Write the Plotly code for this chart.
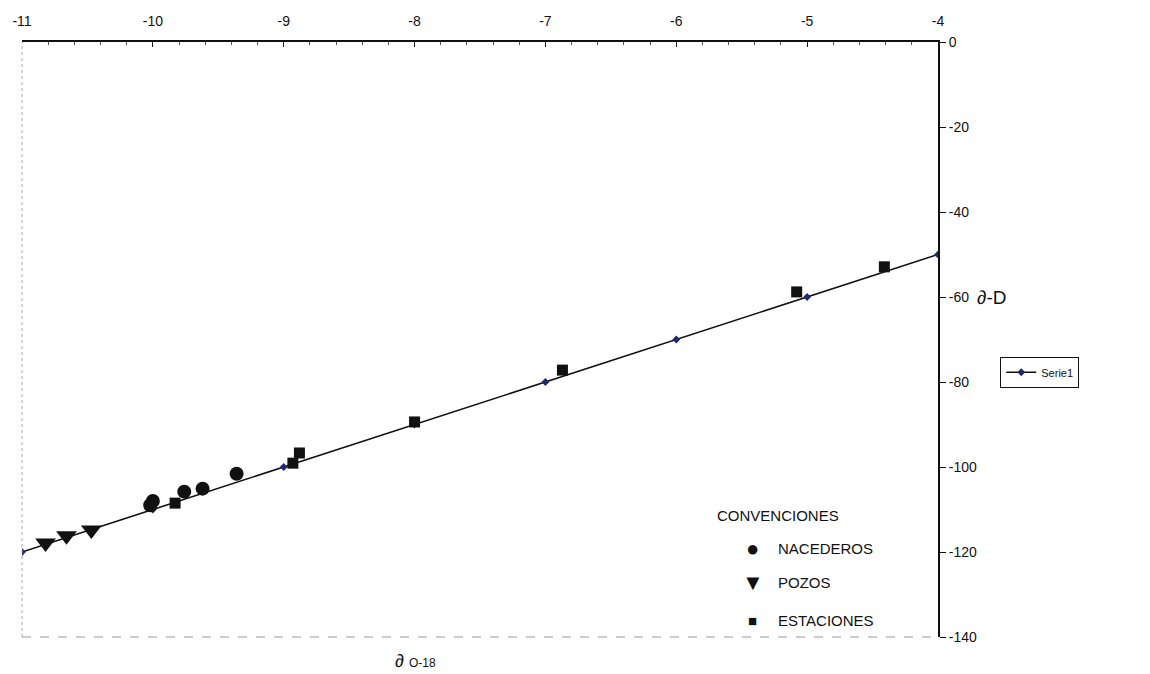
import plotly.graph_objects as go

# Serie1: meteoric water line
serie1_x = [-11, -10, -9, -8, -7, -6, -5, -4]
serie1_y = [-120, -110, -100, -90, -80, -70, -60, -50]

# NACEDEROS (springs)
nac_x = [-10.02, -10.0, -9.76, -9.62, -9.36]
nac_y = [-109.0, -108.0, -105.8, -105.1, -101.6]

# POZOS (wells)
poz_x = [-10.82, -10.66, -10.47]
poz_y = [-117.9, -116.2, -114.8]

# ESTACIONES (stations)
est_x = [-9.83, -8.93, -8.88, -8.0, -6.87, -5.08, -4.41]
est_y = [-108.5, -99.1, -96.7, -89.4, -77.2, -58.8, -52.9]

x_ticks = [-11, -10, -9, -8, -7, -6, -5, -4]
x_labels = ["-11", "-10", "-9", "-8", "-7", "-6", "-5", "-4"]
y_ticks = [0, -20, -40, -60, -80, -100, -120, -140]
y_labels = ["0", "-20", "-40", "-60", "-80", "-100", "-120", "-140"]

font = "Liberation Sans, Arial, sans-serif"

fig = go.Figure()
fig.add_trace(go.Scatter(x=serie1_x, y=serie1_y, mode="lines+markers", name="Serie1",
                         line=dict(color="#111111", width=1.6),
                         marker=dict(symbol="diamond", size=6, color="#1f2a6b")))
fig.add_trace(go.Scatter(x=nac_x, y=nac_y, mode="markers", showlegend=False,
                         marker=dict(symbol="circle", size=14, color="#111111")))
fig.add_trace(go.Scatter(x=poz_x, y=poz_y, mode="markers", showlegend=False,
                         marker=dict(symbol="triangle-down", size=18, color="#111111")))
fig.add_trace(go.Scatter(x=est_x, y=est_y, mode="markers", showlegend=False,
                         marker=dict(symbol="square", size=11, color="#111111")))

ann = [
    dict(x=0.757, y=0.205, text="CONVENCIONES", xanchor="left"),
    dict(x=0.823, y=0.148, text="NACEDEROS", xanchor="left"),
    dict(x=0.823, y=0.092, text="POZOS", xanchor="left"),
    dict(x=0.823, y=0.027, text="ESTACIONES", xanchor="left"),
]
annotations = [dict(xref="paper", yref="paper", showarrow=False, yanchor="middle",
                    font=dict(family=font, size=15, color="#111111"), **a) for a in ann]
annotations += [
    dict(xref="paper", yref="paper", x=0.798, y=0.148, text="●", showarrow=False,
         font=dict(size=22, color="#111111"), xanchor="center", yanchor="middle"),
    dict(xref="paper", yref="paper", x=0.798, y=0.092, text="▼", showarrow=False,
         font=dict(size=22, color="#111111"), xanchor="center", yanchor="middle"),
    dict(xref="paper", yref="paper", x=0.798, y=0.027, text="■", showarrow=False,
         font=dict(size=15, color="#111111"), xanchor="center", yanchor="middle"),
    dict(xref="paper", yref="paper", x=1.04, y=0.57, text="∂-D", showarrow=False,
         font=dict(family=font, size=19, color="#111111"), xanchor="left", yanchor="middle"),
    dict(xref="paper", yref="paper", x=0.43, y=-0.04, text="∂ <span style='font-size:12px'>O-18</span>",
         showarrow=False, font=dict(family=font, size=18, color="#111111"),
         xanchor="center", yanchor="middle"),
]

fig.update_layout(
    width=1142, height=666,
    margin=dict(l=14, r=212, t=34, b=37),
    paper_bgcolor="white", plot_bgcolor="white",
    font=dict(family=font, size=14, color="#111111"),
    showlegend=True,
    legend=dict(x=1.068, y=0.445, xanchor="left", yanchor="middle",
                bordercolor="#111111", borderwidth=1, font=dict(size=11),
                bgcolor="white"),
    annotations=annotations,
    xaxis=dict(side="top", range=[-11, -4], tickvals=x_ticks, ticktext=x_labels,
               showgrid=False, zeroline=False, automargin=False, ticklabelstandoff=8,
               showline=True, linecolor="#111111", linewidth=2, ticks="inside",
               ticklen=5, tickcolor="#111111",
               minor=dict(ticks="inside", ticklen=3, dtick=0.2, tickcolor="#555555")),
    yaxis=dict(side="right", range=[-140, 0], tickvals=y_ticks, ticktext=y_labels,
               showgrid=False, zeroline=False, automargin=False,
               showline=True, linecolor="#111111", linewidth=2, ticks="outside",
               ticklen=6, tickcolor="#111111"),
    shapes=[
        dict(type="line", xref="paper", yref="paper", x0=0, x1=0, y0=0, y1=1,
             line=dict(color="#aaaaaa", width=1, dash="dot")),
        dict(type="line", xref="paper", yref="paper", x0=0, x1=1, y0=0, y1=0,
             line=dict(color="#999999", width=1, dash="dash")),
    ],
)

fig.write_html("out.html")
